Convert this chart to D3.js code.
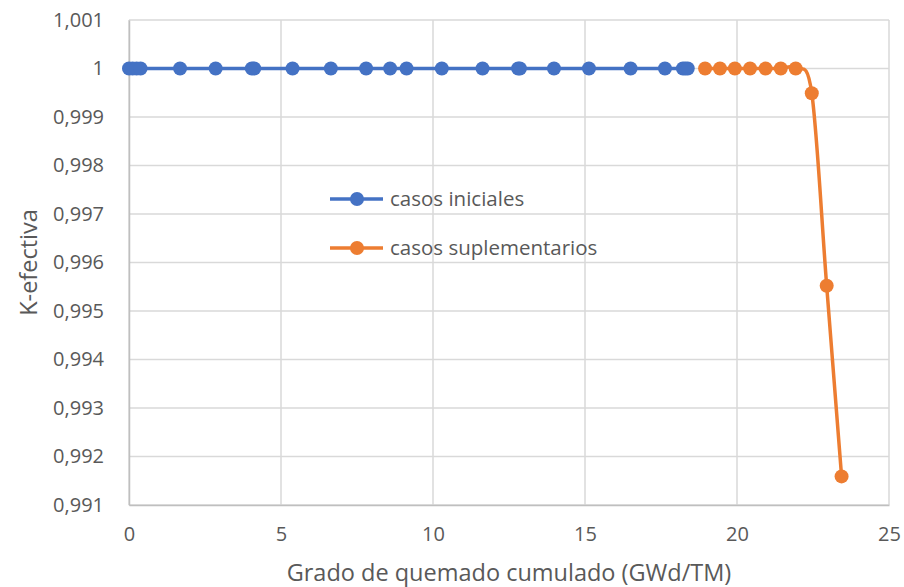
<!DOCTYPE html>
<html>
<head>
<meta charset="utf-8">
<script src="https://cdn.jsdelivr.net/npm/d3@7"></script>
<style>
  body { margin: 0; background: #fff; }
  text { font-family: "Open Sans", sans-serif; fill: #595959; }
</style>
</head>
<body>
<svg width="904" height="587"></svg>
<script>
// casos iniciales (x: GWd/TM, y: k-efectiva)
var inicialesX = [0, 0.12, 0.25, 0.38, 1.68, 2.85, 4.04, 4.12, 5.38, 6.64, 7.8, 8.59, 9.13, 10.29, 11.63, 12.8, 12.86, 13.98, 15.13, 16.5, 17.63, 18.22, 18.3, 18.38];
var inicialesY = [1, 1, 1, 1, 1, 1, 1, 1, 1, 1, 1, 1, 1, 1, 1, 1, 1, 1, 1, 1, 1, 1, 1, 1];
// casos suplementarios
var suplemX = [18.95, 19.44, 19.93, 20.43, 20.94, 21.44, 21.93, 22.46, 22.95, 23.44];
var suplemY = [1, 1, 1, 1, 1, 1, 1, 0.99949, 0.99552, 0.99159];

var xTicks = [0, 5, 10, 15, 20, 25];
var yTicks = [0.991, 0.992, 0.993, 0.994, 0.995, 0.996, 0.997, 0.998, 0.999, 1, 1.001];
var seriesNames = ["casos iniciales", "casos suplementarios"];
var colors = ["#4472C4", "#ED7D31"];

var svg = d3.select("svg"),
  margin = { top: 20, right: 15, bottom: 82, left: 129 },
  width = +svg.attr("width") - margin.left - margin.right,
  height = +svg.attr("height") - margin.top - margin.bottom;

var x = d3.scaleLinear().domain([0, 25]).range([0, width]);
var y = d3.scaleLinear().domain([0.991, 1.001]).range([height, 0]);

var g = svg.append("g")
  .attr("transform", "translate(" + margin.left + "," + margin.top + ")");

var fmt = function(d) {
  return d3.format(".3~f")(d).replace(".", ",");
};

// grid
g.append("g").selectAll("line")
  .data(yTicks)
  .enter().append("line")
  .attr("x1", 0).attr("x2", width)
  .attr("y1", function(d) { return y(d); })
  .attr("y2", function(d) { return y(d); })
  .attr("stroke", "#D9D9D9").attr("stroke-width", 1.5);
g.append("g").selectAll("line")
  .data(xTicks)
  .enter().append("line")
  .attr("y1", 0).attr("y2", height)
  .attr("x1", function(d) { return x(d); })
  .attr("x2", function(d) { return x(d); })
  .attr("stroke", "#D9D9D9").attr("stroke-width", 1.5);

// axes
var xAxis = g.append("g")
  .attr("transform", "translate(0," + height + ")")
  .call(d3.axisBottom(x).tickValues(xTicks).tickSize(0).tickPadding(22));
var yAxis = g.append("g")
  .call(d3.axisLeft(y).tickValues(yTicks).tickFormat(fmt).tickSize(0).tickPadding(25));
xAxis.select(".domain").attr("stroke", "#BFBFBF").attr("stroke-width", 1.5);
yAxis.select(".domain").attr("stroke", "#BFBFBF").attr("stroke-width", 1.5);
svg.selectAll(".tick text").attr("font-size", 20).attr("font-family", "Open Sans").attr("fill", "#595959");

// axis titles
svg.append("text")
  .attr("x", margin.left + width / 2)
  .attr("y", 581)
  .attr("text-anchor", "middle")
  .attr("font-size", 23.5)
  .text("Grado de quemado cumulado (GWd/TM)");
svg.append("text")
  .attr("transform", "translate(37," + (margin.top + height / 2) + ") rotate(-90)")
  .attr("text-anchor", "middle")
  .attr("font-size", 23.5)
  .text("K-efectiva");

// series
var series = [
  { name: seriesNames[0], xs: inicialesX, ys: inicialesY, color: colors[0] },
  { name: seriesNames[1], xs: suplemX, ys: suplemY, color: colors[1] }
];

var line = d3.line()
  .x(function(d) { return x(d[0]); })
  .y(function(d) { return y(d[1]); })
  .curve(d3.curveCatmullRom.alpha(0));

series.forEach(function(s) {
  var pts = d3.zip(s.xs, s.ys);
  g.append("path")
    .datum(pts)
    .attr("fill", "none")
    .attr("stroke", s.color)
    .attr("stroke-width", 3.5)
    .attr("d", line);
  g.selectAll(null)
    .data(pts)
    .enter().append("circle")
    .attr("cx", function(d) { return x(d[0]); })
    .attr("cy", function(d) { return y(d[1]); })
    .attr("r", 7)
    .attr("fill", s.color);
});

// legend
var legend = svg.append("g")
  .selectAll("g")
  .data(series)
  .enter().append("g")
  .attr("transform", function(d, i) { return "translate(330," + (199 + i * 49) + ")"; });
legend.append("line")
  .attr("x1", 0).attr("x2", 53)
  .attr("stroke", function(d) { return d.color; })
  .attr("stroke-width", 3.5);
legend.append("circle")
  .attr("cx", 27).attr("r", 7)
  .attr("fill", function(d) { return d.color; });
legend.append("text")
  .attr("x", 60)
  .attr("dy", "0.35em")
  .attr("font-size", 20.5)
  .text(function(d) { return d.name; });
</script>
</body>
</html>
